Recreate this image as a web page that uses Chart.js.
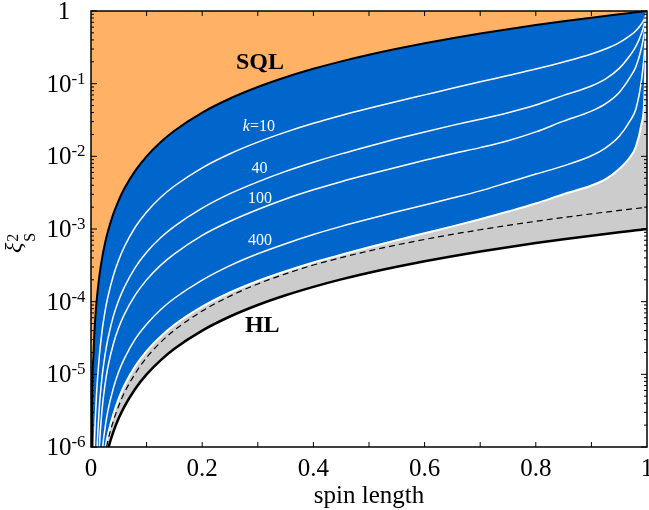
<!DOCTYPE html>
<html><head><meta charset="utf-8">
<script src="https://cdn.jsdelivr.net/npm/chart.js"></script>
<style>html,body{margin:0;padding:0;background:#fff}#wrap{width:649px;height:510px}</style>
</head><body><div id="wrap"><canvas id="c" width="649" height="510"></canvas></div>
<script>
// spin length (x)
const spinLength = [0,0.002,0.004,0.006,0.008,0.01,0.015,0.02,0.025,0.03,0.04,0.05,0.06,0.08,0.1,0.125,0.15,0.2,0.25,0.3,0.35,0.4,0.45,0.5,0.55,0.6,0.65,0.7,0.75,0.8,0.85,0.9,0.925,0.95,0.97,0.98,0.99,0.995,1];
// standard quantum limit
const sqlLimit = [1e-12,4e-6,1.6e-5,3.6e-5,6.4e-5,1e-4,2.25e-4,4e-4,6.25e-4,9e-4,1.6e-3,2.5e-3,3.6e-3,6.4e-3,0.01,0.0156,0.0225,0.04,0.0625,0.09,0.1225,0.16,0.2025,0.25,0.3025,0.36,0.4225,0.49,0.5625,0.64,0.7225,0.81,0.8556,0.9025,0.9409,0.9604,0.9801,0.99,1];
// Heisenberg limit
const heisenbergLimit = [1e-15,4e-9,1.6e-8,3.6e-8,6.4e-8,1e-7,2.25e-7,4e-7,6.25e-7,9e-7,1.6e-6,2.5e-6,3.6e-6,6.4e-6,1e-5,1.56e-5,2.25e-5,4e-5,6.25e-5,9e-5,1.225e-4,1.6e-4,2.025e-4,2.5e-4,3.025e-4,3.6e-4,4.225e-4,4.9e-4,5.625e-4,6.4e-4,7.225e-4,8.1e-4,8.556e-4,9.025e-4,9.409e-4,9.604e-4,9.801e-4,9.9e-4,1e-3];
// k-producible bounds, read as decades (log10 of xi^2)
const k10Decades  = [-12,-8,-6.8,-5.99,-5.574,-5.26,-4.748,-4.398,-4.144,-3.946,-3.646,-3.422,-3.244,-2.969,-2.765,-2.566,-2.408,-2.158,-1.964,-1.804,-1.667,-1.546,-1.438,-1.338,-1.244,-1.154,-1.064,-0.975,-0.888,-0.799,-0.701,-0.592,-0.523,-0.435,-0.336,-0.273,-0.179,-0.114,0];
const k40Decades  = [-12,-10,-8.5,-7.3,-6.79,-6.2,-5.448,-5.028,-4.744,-4.526,-4.206,-3.977,-3.799,-3.524,-3.32,-3.121,-2.963,-2.713,-2.514,-2.351,-2.207,-2.081,-1.966,-1.86,-1.759,-1.664,-1.574,-1.49,-1.4,-1.294,-1.161,-1.032,-0.938,-0.79,-0.606,-0.488,-0.309,-0.184,0];
const k100Decades = [-12,-11,-10,-9,-8,-7.0,-5.998,-5.478,-5.154,-4.916,-4.586,-4.352,-4.174,-3.904,-3.70,-3.501,-3.343,-3.088,-2.894,-2.731,-2.587,-2.461,-2.349,-2.247,-2.149,-2.054,-1.964,-1.88,-1.785,-1.664,-1.516,-1.377,-1.278,-1.12,-0.906,-0.768,-0.509,-0.304,0];
const k400Decades = [-12,-12,-11,-10.5,-10,-9,-7.15,-6.118,-5.754,-5.516,-5.196,-4.962,-4.784,-4.509,-4.31,-4.111,-3.953,-3.703,-3.504,-3.341,-3.202,-3.076,-2.964,-2.862,-2.764,-2.669,-2.574,-2.475,-2.36,-2.244,-2.131,-1.992,-1.888,-1.725,-1.506,-1.348,-0.959,-0.604,0];
const boundDecades = [-12,-12,-12,-12,-11,-8,-7.148,-6.398,-6.054,-5.846,-5.556,-5.332,-5.154,-4.884,-4.68,-4.481,-4.318,-4.068,-3.874,-3.716,-3.582,-3.461,-3.354,-3.252,-3.154,-3.059,-2.964,-2.865,-2.76,-2.649,-2.521,-2.402,-2.318,-2.175,-2.006,-1.868,-1.559,-1.254,0];
const dashedDecades = [-12,-12,-12,-12,-11,-10,-7.248,-6.498,-6.124,-5.926,-5.646,-5.432,-5.254,-4.984,-4.77,-4.561,-4.393,-4.128,-3.924,-3.756,-3.617,-3.496,-3.394,-3.302,-3.219,-3.144,-3.074,-3.01,-2.95,-2.894,-2.841,-2.792,-2.768,-2.745,-2.726,-2.718,-2.709,-2.704,-2.699];

const xTickValues = [0,0.2,0.4,0.6,0.8,1];
const xTickLabels = ['0','0.2','0.4','0.6','0.8','1'];
const yTickExponents = [0,-1,-2,-3,-4,-5,-6];
const curveLabels = [
  {text:'k=10', x:0.302, y:-1.596},
  {text:'40',   x:0.303, y:-2.173},
  {text:'100',  x:0.304, y:-2.586},
  {text:'400',  x:0.304, y:-3.164}
];
const limitLabels = [
  {text:'SQL', x:0.304, y:-0.715},
  {text:'HL',  x:0.308, y:-4.333}
];

const ORANGE = '#FFB266', BLUE = '#0066CC', GRAY = '#CCCCCC';
const SERIF = '"Liberation Serif", "Times New Roman", serif';

const pts = vals => spinLength.map((x,i)=>({x, y: vals[i]}));
const ptsDec = dec => spinLength.map((x,i)=>({x, y: Math.pow(10, dec[i])}));

const base = {pointRadius:0, cubicInterpolationMode:'monotone', fill:false};
const datasets = [
  {...base, label:'SQL', data:pts(sqlLimit), borderColor:'#000', borderWidth:2, fill:'end', backgroundColor:ORANGE, order:0},
  {...base, label:'bound', data:ptsDec(boundDecades), borderColor:'#fff', borderWidth:2, fill:'-1', backgroundColor:BLUE, order:3},
  {...base, label:'HL', data:pts(heisenbergLimit), borderColor:'#000', borderWidth:2.5, fill:'-1', backgroundColor:GRAY, order:1},
  {...base, label:'k=10', data:ptsDec(k10Decades), borderColor:'#fff', borderWidth:1.5, order:4},
  {...base, label:'k=40', data:ptsDec(k40Decades), borderColor:'#fff', borderWidth:1.5, order:4},
  {...base, label:'k=100', data:ptsDec(k100Decades), borderColor:'#fff', borderWidth:1.5, order:4},
  {...base, label:'k=400', data:ptsDec(k400Decades), borderColor:'#fff', borderWidth:1.5, order:4},
  {...base, label:'dashed', data:ptsDec(dashedDecades), borderColor:'#000', borderWidth:1.2, borderDash:[6,4], order:2}
];

const decor = {
  id:'decor',
  afterDraw(chart){
    const {ctx, chartArea:a, scales:{x, y}} = chart;
    ctx.save();
    const seg = (x1,y1,x2,y2)=>{ctx.beginPath();ctx.moveTo(x1,y1);ctx.lineTo(x2,y2);ctx.stroke();};
    ctx.strokeStyle = '#000'; ctx.lineWidth = 1;
    for (let i=1;i<10;i++){
      const px = x.getPixelForValue(i/10);
      seg(px,a.bottom,px,a.bottom-5); seg(px,a.top,px,a.top+5);
    }
    for (const e of yTickExponents){
      for (let m=1;m<10;m++){
        if (e===0 && m>1) break;
        const py = y.getPixelForValue(m*Math.pow(10,e));
        const L = m===1?6:3;
        seg(a.left,py,a.left+L,py); seg(a.right,py,a.right-L,py);
      }
    }
    ctx.lineWidth = 1.5;
    ctx.strokeRect(a.left, a.top, a.right-a.left, a.bottom-a.top);

    ctx.fillStyle = '#000';
    ctx.font = '25px ' + SERIF; ctx.textAlign='center'; ctx.textBaseline='alphabetic';
    xTickValues.forEach((v,i)=>ctx.fillText(xTickLabels[i], x.getPixelForValue(v), a.bottom+29));
    yTickExponents.forEach(e=>{
      const py = y.getPixelForValue(Math.pow(10,e));
      ctx.textAlign='left';
      if (e===0){ ctx.font='25px '+SERIF; const w=ctx.measureText('1').width; ctx.fillText('1', 64-w/2, py+8); return; }
      ctx.font='25px '+SERIF; const w1 = ctx.measureText('10').width;
      ctx.font='17px '+SERIF; const sup = '-'+(-e); const w2 = ctx.measureText(sup).width;
      const x0 = 66 - (w1+w2)/2;
      ctx.font='25px '+SERIF; ctx.fillText('10', x0, py+8);
      ctx.font='17px '+SERIF; ctx.fillText(sup, x0+w1, py);
    });
    ctx.font = '25px '+SERIF; ctx.textAlign='center';
    ctx.fillText('spin length', (a.left+a.right)/2, 503);
    ctx.save(); ctx.translate(21, 253); ctx.rotate(-Math.PI/2);
    ctx.textAlign='left';
    ctx.font='italic 24px '+SERIF; ctx.fillText('\u03BE',0,0); const wx = ctx.measureText('\u03BE').width;
    ctx.font='16px '+SERIF; ctx.fillText('2', wx+1, -3); ctx.fillText('S', wx+1, 14);
    ctx.restore();
    ctx.font='bold 24px '+SERIF; ctx.textAlign='center'; ctx.textBaseline='middle';
    limitLabels.forEach(l=>ctx.fillText(l.text, x.getPixelForValue(l.x), y.getPixelForValue(Math.pow(10,l.y))));
    ctx.fillStyle='#fff';
    curveLabels.forEach(l=>{
      const cx = x.getPixelForValue(l.x), cy = y.getPixelForValue(Math.pow(10,l.y));
      if (l.text.startsWith('k')){
        ctx.font='italic 16px '+SERIF; const wk = ctx.measureText('k').width;
        ctx.font='16px '+SERIF; const wr = ctx.measureText(l.text.slice(1)).width;
        const x0 = cx-(wk+wr)/2; ctx.textAlign='left';
        ctx.font='italic 16px '+SERIF; ctx.fillText('k', x0, cy);
        ctx.font='16px '+SERIF; ctx.fillText(l.text.slice(1), x0+wk, cy);
      } else {
        ctx.font='16px '+SERIF; ctx.textAlign='center'; ctx.fillText(l.text, cx, cy);
      }
    });
    ctx.restore();
  }
};

new Chart(document.getElementById('c'), {
  type:'line',
  data:{datasets},
  options:{
    responsive:false, animation:false, parsing:true,
    layout:{padding:{left:91,right:2,top:11,bottom:63}},
    scales:{
      x:{type:'linear', min:0, max:1, display:false},
      y:{type:'logarithmic', min:1e-6, max:1, display:false}
    },
    plugins:{legend:{display:false}, tooltip:{enabled:false}, filler:{drawTime:'beforeDatasetsDraw'}}
  },
  plugins:[decor]
});
</script></body></html>
